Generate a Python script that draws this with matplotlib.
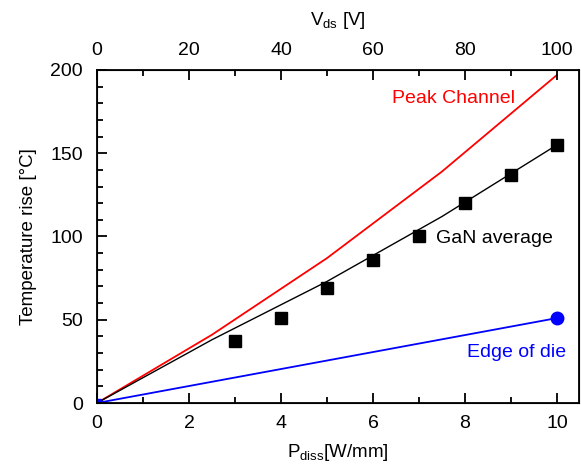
import matplotlib
matplotlib.use("Agg")
from matplotlib import pyplot as plt
from matplotlib.ticker import MultipleLocator

plt.rcParams['font.family'] = ['Liberation Sans', 'DejaVu Sans']
plt.rcParams['mathtext.default'] = 'regular'

# GaN average (measured)
p_meas = [0, 3, 4, 5, 6, 7, 8, 9, 10]
t_meas = [0, 37, 51, 69, 86, 100, 120, 137, 155]

# model curves
p_model = [0, 2.5, 5, 7.5, 10]
t_avg = [0, 38, 73, 112, 155]
t_peak = [0, 41, 87, 139, 197]

p_edge = [0, 10]
t_edge = [0, 51]

fig = plt.figure(figsize=(5.81, 4.67), dpi=100)
ax = fig.add_axes([97/581, 1-403/467, (579-97)/581, (403-70)/467])

ax.plot(p_model, t_peak, color='red', lw=1.3)
ax.plot(p_model, t_avg, color='black', lw=1.0)
ax.plot(p_meas[1:], t_meas[1:], 's', color='black', ms=8, ls='none')
ax.plot(p_edge, t_edge, color='blue', lw=1.3)
ax.plot(p_edge[1:], t_edge[1:], 'o', color='blue', ms=9)
ax.plot([0], [0], 's', color='blue', ms=6, clip_on=True)

ax.text(7.76, 183, 'Peak Channel', color='red', fontsize=14, va='center', ha='center')
ax.text(8.65, 99, 'GaN average', color='black', fontsize=14, va='center', ha='center')
ax.text(9.13, 30.5, 'Edge of die', color='blue', fontsize=14, va='center', ha='center')

ax.set_xlim(0, 10.48)
ax.set_ylim(0, 200)
ax.xaxis.set_major_locator(MultipleLocator(2))
ax.xaxis.set_minor_locator(MultipleLocator(1))
ax.yaxis.set_major_locator(MultipleLocator(50))
ax.yaxis.set_minor_locator(MultipleLocator(10))
ax.tick_params(which='both', direction='in', labelsize=14, width=1.3, right=False)
ax.tick_params(which='major', length=7)
ax.tick_params(which='minor', length=4)
ax.tick_params(axis='y', pad=10)
ax.tick_params(axis='x', pad=9)
for s in ax.spines.values():
    s.set_linewidth(1.3)
ax.set_xlabel('P$_{diss}$[W/mm]', fontsize=13.5, labelpad=7)
ax.set_ylabel('Temperature rise [°C]', fontsize=13.5, labelpad=10)

top = ax.twiny()
top.set_xlim(0, 104.8)
top.xaxis.set_major_locator(MultipleLocator(20))
top.xaxis.set_minor_locator(MultipleLocator(10))
top.tick_params(which='both', direction='in', labelsize=14, width=1.3, pad=8)
top.tick_params(which='major', length=7)
top.tick_params(which='minor', length=4)
top.set_xlabel('V$_{ds}$ [V]', fontsize=13.5, labelpad=12)

fig.savefig('out.png', dpi=100)
